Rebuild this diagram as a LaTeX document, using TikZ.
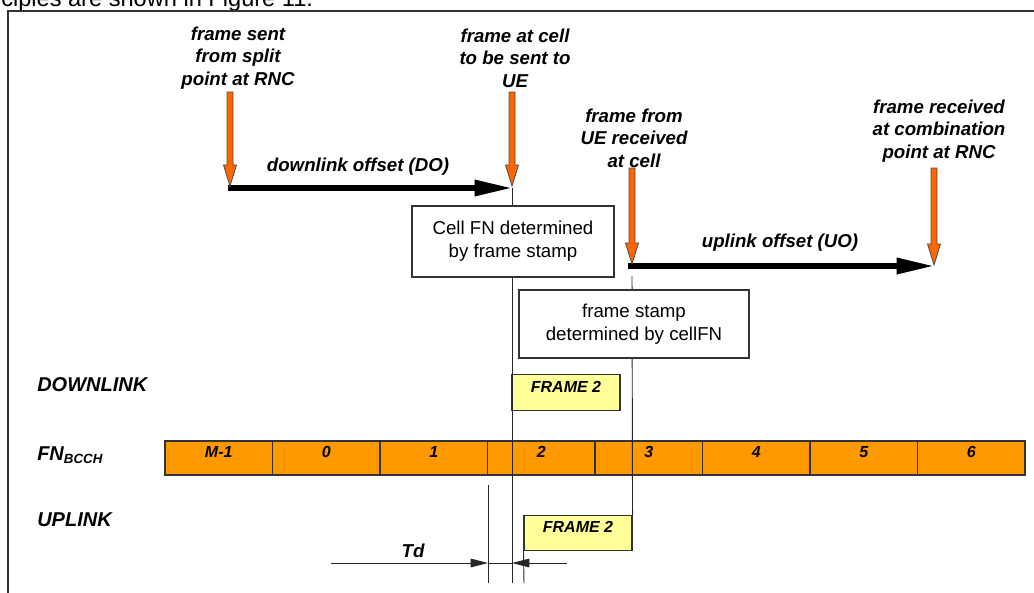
\documentclass[tikz,border=0pt]{standalone}
\usepackage{fontspec}
\setmainfont{Liberation Sans}
\usetikzlibrary{arrows.meta,calc}
\definecolor{arrorange}{RGB}{255,102,0}
\definecolor{barorange}{RGB}{255,153,0}
\definecolor{frameyellow}{RGB}{255,255,153}
\definecolor{edgegray}{RGB}{51,51,51}
\tikzset{
  lbl/.style={font=\fontsize{14}{16.8}\selectfont\bfseries\itshape, align=center, inner sep=0pt},
  rowlbl/.style={font=\fontsize{15}{18}\selectfont\bfseries\itshape, inner sep=0pt, anchor=west},
  celltxt/.style={font=\fontsize{12}{14}\selectfont\bfseries\itshape, inner sep=0pt},
  infotxt/.style={font=\fontsize{14}{17}\selectfont, align=center},
  infobox/.style={draw=edgegray, fill=white, line width=0.9pt, inner sep=0pt},
  fnbox/.style={draw=edgegray, fill=frameyellow, line width=0.8pt, minimum width=81pt, minimum height=26.5pt, inner sep=0pt},
  cellbox/.style={draw=edgegray, fill=barorange, line width=0.8pt, minimum width=80.625pt, minimum height=25.5pt, inner sep=0pt},
  thinline/.style={draw=black!85, line width=0.7pt},
  bigarrow/.style={draw=black, line width=4pt, -{Triangle[length=28pt,width=11.5pt]}},
  dimarrow/.style={draw=black!85, line width=0.7pt, -{Triangle[length=13pt,width=6.5pt]}},
  oarrowstyle/.style={fill=arrorange, draw=black!70, line width=0.6pt, line join=miter},
  frameline/.style={draw=edgegray, line width=1.1pt},
}
\newcommand\oarrow[2]{%
  \draw[oarrowstyle] ($(#1)+(-3,0)$) -- ($(#2)+(-3,-21)$) -- ($(#2)+(-6.5,-21)$) -- (#2)
    -- ($(#2)+(6.5,-21)$) -- ($(#2)+(3,-21)$) -- ($(#1)+(3,0)$) -- cycle;}
\begin{document}
\begin{tikzpicture}[x=0.75pt,y=-0.75pt]
\useasboundingbox (0,0) rectangle (1034,592);
\clip (0,0) rectangle (1034,592);
% cut-off caption line of the page
\node[anchor=base west, font=\fontsize{17.7}{20}\selectfont, inner sep=0pt] (cap) at (1,7) {ciples are shown in Figure 11.};
% outer frame
\coordinate (fbl) at (8,600);
\coordinate (ftl) at (8,11);
\coordinate (ftr) at (1040,11);
\draw[frameline] (fbl) -- (ftl) -- (ftr);

% FN bar
\foreach \i/\t in {0/M-1,1/0,2/1,3/2,4/3,5/4,6/5,7/6}{
  \node[cellbox] (c\i) at ({165+107.5*\i+53.75},458) {};
  \node[celltxt] (ct\i) at ($(c\i.center)+(0,-6)$) {\t};
}

% coordinates
\coordinate (a1t) at (230,92);  \coordinate (a1h) at (230,186);
\coordinate (a2t) at (512,92);  \coordinate (a2h) at (512,186);
\coordinate (a3t) at (632,168); \coordinate (a3h) at (632,264);
\coordinate (a4t) at (934,168); \coordinate (a4h) at (934,265);
\coordinate (dos) at (228,188); \coordinate (doe) at (512,188);
\coordinate (uos) at (628,266); \coordinate (uoe) at (934,266);
\coordinate (v1b) at (512,583);
\coordinate (v2t) at (632,276);
\coordinate (v3t) at (488,485); \coordinate (v3b) at (488,583);
\coordinate (v4b) at (524,583);
\coordinate (td1) at (331,563); \coordinate (td2) at (488,563);
\coordinate (td3) at (512,563); \coordinate (td4) at (567,563);

% frame boxes
\node[fnbox] (dlf) at (566,392.5) {};
\node[celltxt] (dlft) at ($(dlf.center)+(0,-6)$) {FRAME 2};
\node[fnbox] (ulf) at (578,533) {};
\node[celltxt] (ulft) at ($(ulf.center)+(0,-6)$) {FRAME 2};

% thin vertical lines
\draw[thinline] (doe) -- (v1b);
\draw[thinline] (v2t) -- (ulf.north east);
\draw[thinline] (v3t) -- (v3b);
\draw[thinline] (ulf.south west) -- (v4b);

% info boxes
\node[infobox, minimum width=151.5pt, minimum height=53.25pt] (b1) at (513,241.5) {};
\node[infotxt] (b1t) at (b1.center) {Cell FN determined\\by frame stamp};
\node[infobox, minimum width=172.5pt, minimum height=51pt] (b2) at (634,324) {};
\node[infotxt] (b2t) at (b2.center) {frame stamp\\determined by cellFN};

% black offset arrows
\draw[bigarrow] (dos) -- (doe);
\draw[bigarrow] (uos) -- (uoe);

% orange arrows
\oarrow{a1t}{a1h}
\oarrow{a2t}{a2h}
\oarrow{a3t}{a3h}
\oarrow{a4t}{a4h}

% labels
\node[lbl] (l1) at (238,58) {frame sent\\from split\\point at RNC};
\node[lbl] (l2) at (515,58) {frame at cell\\to be sent to\\UE};
\node[lbl] (l3) at (634,138) {frame from\\UE received\\at cell};
\node[lbl] (l4) at (939,131) {frame received\\at combination\\point at RNC};
\node[lbl] (dol) at (358,167) {downlink offset (DO)};
\node[lbl] (uol) at (780,243) {uplink offset (UO)};

% row labels
\node[rowlbl] (dl) at (37,385) {DOWNLINK};
\node[rowlbl] (fn) at (37,455) {FN{\fontsize{10}{10}\selectfont\raisebox{-2.5pt}{BCCH}}};
\node[rowlbl] (ul) at (37,520) {UPLINK};

% Td dimension
\draw[dimarrow] (td1) -- (td2);
\draw[thinline] (td2) -- (td3);
\draw[dimarrow] (td4) -- (td3);
\node[lbl] (tdl) at (413,551) {Td};
\end{tikzpicture}
\end{document}
